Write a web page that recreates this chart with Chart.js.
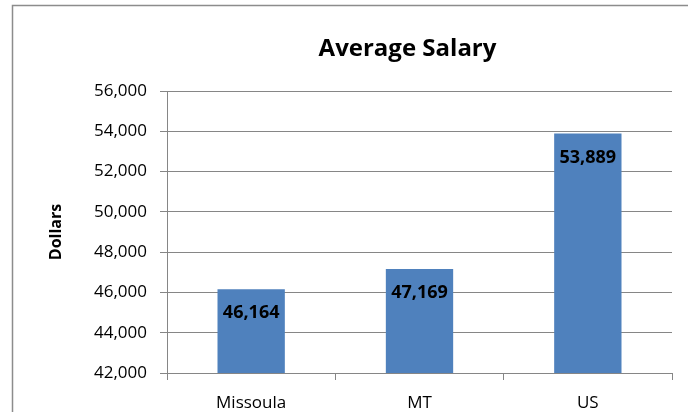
<!DOCTYPE html>
<html>
<head>
<meta charset="utf-8">
<script src="https://cdn.jsdelivr.net/npm/chart.js@4"></script>
<style>
html,body{margin:0;padding:0;background:#fff;}
#wrap{width:688px;height:412px;position:relative;}
</style>
</head>
<body>
<div id="wrap"><canvas id="c" width="688" height="412"></canvas></div>
<script>
const categories = ["Missoula", "MT", "US"];
const salaries = [46164, 47169, 53889];
const yTicks = [42000, 44000, 46000, 48000, 50000, 52000, 54000, 56000];
const chartTitle = "Average Salary";
const yAxisTitle = "Dollars";

const fmt = v => Number(v).toLocaleString('en-US');
const FONT = "'Open Sans', 'DejaVu Sans', sans-serif";
const GRID = '#868686';

const decorPlugin = {
  id: 'decor',
  beforeDraw(chart) {
    const ctx = chart.ctx;
    ctx.save();
    ctx.fillStyle = '#fff';
    ctx.fillRect(0, 0, chart.width, chart.height);
    ctx.strokeStyle = '#8c8c8c';
    ctx.lineWidth = 1.5;
    ctx.strokeRect(12.5, 5.5, 800, 600);
    ctx.restore();
  },
  afterDatasetsDraw(chart) {
    const ctx = chart.ctx;
    const meta = chart.getDatasetMeta(0);
    ctx.save();
    ctx.font = "bold 18px " + FONT;
    ctx.fillStyle = '#000';
    ctx.textAlign = 'center';
    ctx.textBaseline = 'middle';
    meta.data.forEach((bar, i) => {
      ctx.fillText(fmt(salaries[i]), bar.x, bar.y + 24);
    });
    ctx.restore();
  },
  afterDraw(chart) {
    const ctx = chart.ctx;
    const a = chart.chartArea;
    ctx.save();
    ctx.font = "bold 24px " + FONT;
    ctx.fillStyle = '#000';
    ctx.textAlign = 'center';
    ctx.textBaseline = 'middle';
    ctx.fillText(chartTitle, (a.left + a.right) / 2 - 12, a.top - 42);
    ctx.restore();
  }
};

new Chart(document.getElementById('c'), {
  type: 'bar',
  data: {
    labels: categories,
    datasets: [{
      data: salaries,
      backgroundColor: '#4F81BD',
      borderWidth: 0,
      barPercentage: 0.4,
      categoryPercentage: 1.0
    }]
  },
  options: {
    responsive: false,
    animation: false,
    devicePixelRatio: 1,
    layout: { padding: { left: 12, right: 16, top: 91, bottom: 0 } },
    plugins: {
      legend: { display: false },
      title: { display: false },
      tooltip: { enabled: false }
    },
    scales: {
      x: {
        afterFit(s) { s.height = 39; },
        grid: {
          offset: true,
          drawOnChartArea: false,
          drawTicks: true,
          tickLength: 7,
          color: GRID,
          lineWidth: 1
        },
        border: { display: true, color: GRID, width: 1 },
        ticks: {
          color: '#000',
          font: { family: FONT, size: 17 },
          padding: 13,
          maxRotation: 0
        }
      },
      y: {
        min: 42000,
        max: 56000,
        afterFit(s) { s.width = 155; },
        afterBuildTicks(s) { s.ticks = yTicks.map(v => ({ value: v })); },
        grid: {
          color: GRID,
          lineWidth: 1,
          drawTicks: true,
          tickLength: 7
        },
        border: { display: true, color: GRID, width: 1 },
        ticks: {
          color: '#000',
          font: { family: FONT, size: 17 },
          padding: 13,
          callback: v => fmt(v)
        },
        title: {
          display: true,
          text: yAxisTitle,
          color: '#000',
          font: { family: FONT, size: 16, weight: 'bold' },
          padding: { top: 35, bottom: 0 }
        }
      }
    }
  },
  plugins: [decorPlugin]
});
</script>
</body>
</html>
